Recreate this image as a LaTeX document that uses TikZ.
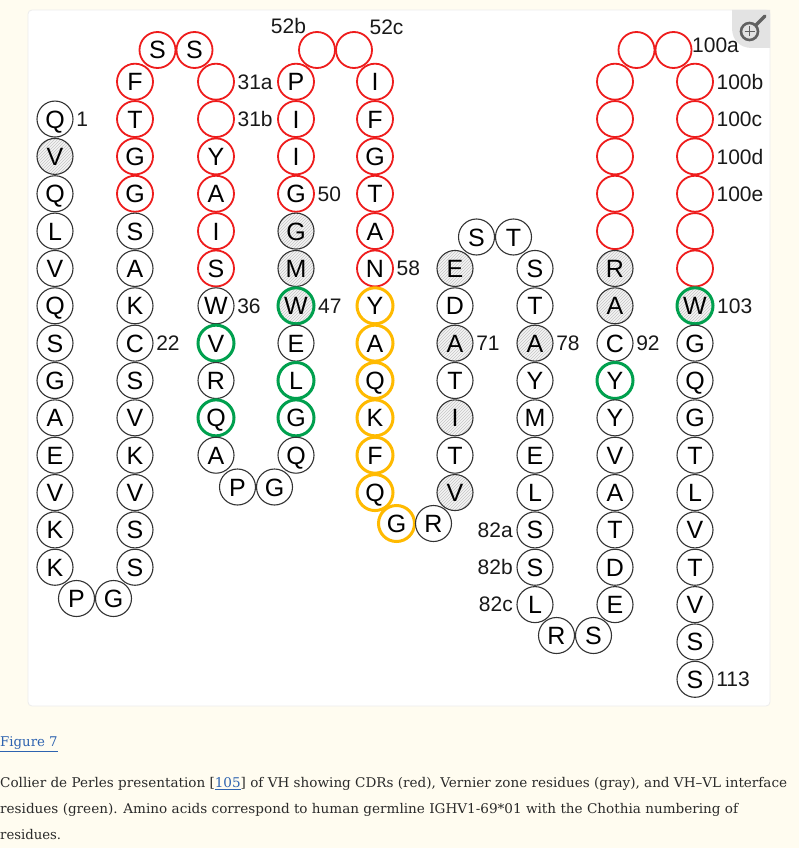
\documentclass[tikz,border=0pt]{standalone}
\usepackage{fontspec}
\setmainfont{DejaVu Serif}
\newfontfamily\arialf{Liberation Sans}
\usetikzlibrary{patterns}
\definecolor{bgc}{HTML}{FFFCF0}
\definecolor{rdc}{HTML}{EE1C1C}
\definecolor{gnc}{HTML}{00A04E}
\definecolor{ogc}{HTML}{FFBA00}
\definecolor{bkc}{HTML}{333333}
\definecolor{linkc}{HTML}{2E63B0}
\definecolor{capc}{HTML}{2A2A2A}
\begin{document}
\begin{tikzpicture}[x=1pt,y=-1pt,
  declare function={ry(\r)=81.7+37.35*\r;},
  res/.style={circle,minimum size=36pt,inner sep=0pt,draw=bkc,line width=1.1pt,
    font=\arialf\fontsize{25}{25}\selectfont,text height=18pt,text depth=0pt},
  bk/.style={},
  rd/.style={draw=rdc,line width=1.8pt},
  gn/.style={draw=gnc,line width=3pt},
  og/.style={draw=ogc,line width=3pt},
  hat/.style={preaction={fill=gray!9},pattern=north east lines,pattern color=gray!45},
  gh/.style={gn,hat},
  num/.style={font=\arialf\fontsize{21}{21}\selectfont,inner sep=0pt,text depth=0pt,text=black!90},
  rlab/.style={num,anchor=west,xshift=2.5pt},
  llab/.style={num,anchor=east,xshift=-3.5pt},
  captxt/.style={anchor=base west,inner sep=0pt,text=capc,font=\fontsize{13.4}{13.4}\selectfont},
]
\useasboundingbox (0,0) rectangle (799,848);
% background and panel
\fill[bgc] (0,0) rectangle (799,848);
\draw[fill=white,draw=black!7,line width=0.8pt,rounded corners=4pt] (28,10) rectangle (770,706);
% zoom icon
\fill[black!11] (770,10) -- (732,10) -- (732,28) .. controls (732,40) and (740,48) .. (752,48) -- (770,48) -- cycle;
\draw[black!62,line width=2.6pt] (749.5,31.5) circle (8.5);
\draw[black!62,line width=3.2pt,line cap=round] (756,25) -- (765,16);
\draw[black!62,line width=1.5pt] (744.5,31.5) -- (754.5,31.5) (749.5,26.5) -- (749.5,36.5);

% column 1
\foreach \r/\t/\s in {1/Q/bk,2/V/hat,3/Q/bk,4/L/bk,5/V/bk,6/Q/bk,7/S/bk,8/G/bk,9/A/bk,10/E/bk,11/V/bk,12/K/bk,13/K/bk}
  \node[res,\s] (a\r) at (55,{ry(\r)}) {\t};
\node[res] (ab1) at (76.5,598.5) {P};
\node[res] (ab2) at (113.5,598.5) {G};
% column 2
\foreach \r/\t/\s in {0/F/rd,1/T/rd,2/G/rd,3/G/rd,4/S/bk,5/A/bk,6/K/bk,7/C/bk,8/S/bk,9/V/bk,10/K/bk,11/V/bk,12/S/bk,13/S/bk}
  \node[res,\s] (b\r) at (135,{ry(\r)}) {\t};
\node[res,rd] (bt1) at (157.5,50) {S};
\node[res,rd] (bt2) at (194.5,50) {S};
% column 3
\foreach \r/\t/\s in {0//rd,1//rd,2/Y/rd,3/A/rd,4/I/rd,5/S/rd,6/W/bk,7/V/gn,8/R/bk,9/Q/gn,10/A/bk}
  \node[res,\s] (c\r) at (216,{ry(\r)}) {\t};
\node[res] (cb1) at (237.5,487) {P};
\node[res] (cb2) at (274.5,487) {G};
% column 4
\foreach \r/\t/\s in {0/P/rd,1/I/rd,2/I/rd,3/G/rd,4/G/hat,5/M/hat,6/W/gh,7/E/bk,8/L/gn,9/G/gn,10/Q/bk}
  \node[res,\s] (d\r) at (296,{ry(\r)}) {\t};
\node[res,rd] (dt1) at (317,50) {};
\node[res,rd] (dt2) at (354,50) {};
% column 5
\foreach \r/\t/\s in {0/I/rd,1/F/rd,2/G/rd,3/T/rd,4/A/rd,5/N/rd,6/Y/og,7/A/og,8/Q/og,9/K/og,10/F/og,11/Q/og}
  \node[res,\s] (e\r) at (375,{ry(\r)}) {\t};
\node[res,og] (eb1) at (396.5,523.5) {G};
\node[res] (eb2) at (433.5,523.5) {R};
% column 6
\foreach \r/\t/\s in {5/E/hat,6/D/bk,7/A/hat,8/T/bk,9/I/hat,10/T/bk,11/V/hat}
  \node[res,\s] (f\r) at (455,{ry(\r)}) {\t};
\node[res] (ft1) at (476.5,237) {S};
\node[res] (ft2) at (513.5,237) {T};
% column 7
\foreach \r/\t/\s in {5/S/bk,6/T/bk,7/A/hat,8/Y/bk,9/M/bk,10/E/bk,11/L/bk,12/S/bk,13/S/bk,14/L/bk}
  \node[res,\s] (g\r) at (535,{ry(\r)}) {\t};
\node[res] (gb1) at (556.5,635.5) {R};
\node[res] (gb2) at (593.5,635.5) {S};
% column 8
\foreach \r/\t/\s in {0//rd,1//rd,2//rd,3//rd,4//rd,5/R/hat,6/A/hat,7/C/bk,8/Y/gn,9/Y/bk,10/V/bk,11/A/bk,12/T/bk,13/D/bk,14/E/bk}
  \node[res,\s] (h\r) at (615,{ry(\r)}) {\t};
\node[res,rd] (ht1) at (636.5,50) {};
\node[res,rd] (ht2) at (673.5,50) {};
% column 9
\foreach \r/\t/\s in {0//rd,1//rd,2//rd,3//rd,4//rd,5//rd,6/W/gh,7/G/bk,8/Q/bk,9/G/bk,10/T/bk,11/L/bk,12/V/bk,13/T/bk,14/V/bk,15/S/bk,16/S/bk}
  \node[res,\s] (i\r) at (695,{ry(\r)}) {\t};

% numbering labels
\node[rlab] (n1) at (a1.east) {1};
\node[rlab] (n22) at (b7.east) {22};
\node[rlab] (n31a) at (c0.east) {31a};
\node[rlab] (n31b) at (c1.east) {31b};
\node[rlab] (n36) at (c6.east) {36};
\node[rlab] (n50) at (d3.east) {50};
\node[rlab] (n47) at (d6.east) {47};
\node[rlab] (n58) at (e5.east) {58};
\node[rlab] (n71) at (f7.east) {71};
\node[rlab] (n78) at (g7.east) {78};
\node[rlab] (n92) at (h7.east) {92};
\node[rlab] (n103) at (i6.east) {103};
\node[rlab] (n100b) at (i0.east) {100b};
\node[rlab] (n100c) at (i1.east) {100c};
\node[rlab] (n100d) at (i2.east) {100d};
\node[rlab] (n100e) at (i3.east) {100e};
\node[rlab] (n113) at (i16.east) {113};
\node[llab] (n82a) at (g12.west) {82a};
\node[llab] (n82b) at (g13.west) {82b};
\node[llab] (n82c) at (g14.west) {82c};
\node[num] (n52b) at (288.5,25.5) {52b};
\node[num] (n52c) at (386.5,27) {52c};
\node[num] (n100a) at (715.5,45) {100a};

% caption
\node[captxt,text=linkc] (fig) at (0,746.7) {\resizebox{57.5pt}{\height}{\underline{Figure 7}}};
\node[captxt] (l1) at (0,787.3) {\resizebox{787pt}{\height}{Collier de Perles presentation [\textcolor{linkc}{\underline{105}}] of VH showing CDRs (red), Vernier zone residues (gray), and VH–VL interface}};
\node[captxt] (l2) at (0,813.5) {\resizebox{738pt}{\height}{residues (green). Amino acids correspond to human germline IGHV1-69*01 with the Chothia numbering of}};
\node[captxt] (l3) at (0,839.3) {\resizebox{61pt}{\height}{residues.}};
\end{tikzpicture}
\end{document}
